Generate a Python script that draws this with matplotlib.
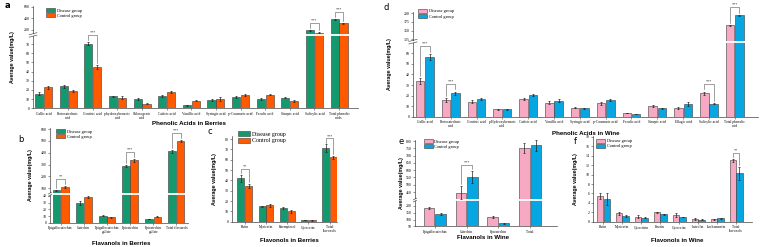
import numpy as np
import matplotlib
matplotlib.use("Agg")
import matplotlib.pyplot as plt
from matplotlib.patches import Patch

# ---- data ----
a_labels = ["Gallic acid", "Protocatechuic\nacid", "Gentisic acid", "p-hydroxybenzoic\nacid",
            "Chlorogenic\nacid", "Caffeic acid", "Vanillic acid", "Syringic acid",
            "p-Coumaric acid", "Ferulic acid", "Sinapic acid", "Salicylic acid",
            "Total phenolic\nacids"]
a_dis = [15.9, 24.0, 70.4, 13.3, 10.4, 13.3, 3.3, 9.3, 12.6, 10.4, 11.5, 188, 383]
a_con = [23.0, 19.0, 44.8, 11.5, 4.8, 18.1, 8.1, 10.0, 14.1, 14.8, 7.8, 150, 313]
a_dis_err = [1.5, 1.5, 1.8, 0.6, 1.2, 1.0, 0.4, 1.0, 1.2, 1.0, 0.6, 5, 8]
a_con_err = [1.6, 1.3, 2.0, 1.7, 0.6, 1.2, 0.6, 2.0, 1.0, 0.6, 0.8, 3, 6]
a_sig = {2: "***", 11: "***", 12: "***"}

d_labels = ["Gallic acid", "Protocatechuic\nacid", "Gentisic acid", "p-Hydroxybenzoic\nacid",
            "Caffeic acid", "Vanillic acid", "Syringic acid", "p-Coumaric acid",
            "Ferulic acid", "Sinapic acid", "Ellagic acid", "Salicylic acid",
            "Total phenolic\nacid"]
d_dis = [34.0, 15.7, 14.2, 7.2, 16.7, 13.2, 8.5, 12.6, 3.5, 10.1, 8.2, 22.0, 165]
d_con = [56.6, 22.0, 16.7, 6.9, 20.4, 15.1, 7.9, 15.7, 2.5, 7.9, 12.3, 12.3, 194]
d_dis_err = [3.0, 1.8, 1.2, 0.4, 0.9, 1.5, 0.4, 1.5, 0.3, 0.8, 0.8, 1.8, 1.5]
d_con_err = [3.0, 1.8, 0.8, 0.5, 0.9, 1.2, 0.6, 1.0, 0.4, 0.4, 1.8, 0.6, 2.0]
d_sig = {0: "***", 1: "***", 11: "***", 12: "***"}

b_labels = ["Epigallocatechin", "Catechin", "Epigallocatechin\ngallate", "Epicatechin",
            "Epicatechin\ngallate", "Total flavanols"]
b_dis = [83, 29.0, 10.5, 286, 5.5, 411]
b_con = [111, 38.5, 8.0, 337, 9.0, 500]
b_dis_err = [6, 3.0, 1.0, 8, 0.6, 10]
b_con_err = [8, 2.0, 0.6, 12, 1.0, 10]
b_sig = {0: "**", 3: "***", 5: "***"}

c_labels = ["Rutin", "Myricetin", "Kaempferol", "Quercetin", "Total\nflavonols"]
c_dis = [42.0, 14.8, 12.9, 1.9, 71.3]
c_con = [34.8, 15.8, 10.0, 1.3, 62.3]
c_dis_err = [3.5, 0.8, 1.0, 0.2, 3.5]
c_con_err = [1.8, 1.2, 1.8, 0.2, 1.8]
c_sig = {0: "**", 4: "***"}

e_labels = ["Epigallocatechin", "Catechin", "Epicatechin", "Total"]
e_dis = [183, 445, 119, 750]
e_con = [141, 555, 72, 770]
e_dis_err = [8, 45, 10, 35]
e_con_err = [5, 40, 3, 35]
e_sig = {1: "***"}

f_labels = ["Rutin", "Myricetin", "Quercitrin", "Fisetin", "Quercetin", "Luteolin",
            "Isorhamnetin", "Total\nflavonols"]
f_dis = [5.5, 1.8, 1.1, 2.0, 1.4, 0.6, 0.55, 13.0]
f_con = [4.8, 1.2, 0.8, 1.6, 1.0, 0.4, 0.7, 10.3]
f_dis_err = [0.6, 0.3, 0.25, 0.1, 0.35, 0.15, 0.1, 0.4]
f_con_err = [1.3, 0.15, 0.1, 0.1, 0.1, 0.1, 0.1, 1.4]
f_sig = {7: "**"}

GREEN, ORANGE = "#14996f", "#ff5a00"
PINK, BLUE = "#f7a8c3", "#06a6e2"
SERIF = "Liberation Serif"
SANS = "Liberation Sans"


def make_break(lo0, lo1, up0, up1, frac):
    def fwd(v):
        v = np.asarray(v, float)
        low = (v - lo0) / (lo1 - lo0) * frac
        high = frac + (v - up0) / (up1 - up0) * (1 - frac)
        return np.where(v <= lo1, low, np.where(v >= up0, high, frac))

    def inv(t):
        t = np.asarray(t, float)
        low = lo0 + t / frac * (lo1 - lo0)
        high = up0 + (t - frac) / (1 - frac) * (up1 - up0)
        return np.where(t <= frac, low, high)
    return fwd, inv


def make_linear(y0, y1):
    return (lambda v: (np.asarray(v, float) - y0) / (y1 - y0),
            lambda t: y0 + np.asarray(t, float) * (y1 - y0))


def panel(fig, rect, labels, dis, con, dis_err, con_err, sig, colors, xlim,
          ylabel_x, xlabel, xlabel_xy, leg_xy, ticks, brk=None, ylim=None,
          leg_fs=3.2, lab_fs=4.4):
    ax = fig.add_axes(rect)
    x = np.arange(len(labels))
    w, off = 0.33, 0.18
    if brk is not None:
        fwd, inv = make_break(*brk)
        ax.set_yscale("function", functions=(fwd, inv))
        ax.set_ylim(brk[0], brk[3])
    else:
        fwd, inv = make_linear(*ylim)
        ax.set_ylim(*ylim)
    ekw = dict(fmt="none", ecolor="#222222", elinewidth=0.5, capsize=1.0,
               capthick=0.5, zorder=4)
    ax.bar(x - off, dis, w, color=colors[0], edgecolor="#3a3a3a", lw=0.4, zorder=2)
    ax.bar(x + off, con, w, color=colors[1], edgecolor="#3a3a3a", lw=0.4, zorder=2)
    ax.errorbar(x - off, dis, yerr=dis_err, **ekw)
    ax.errorbar(x + off, con, yerr=con_err, **ekw)

    if brk is not None:
        ax.axhline(brk[1], color="white", lw=1.3, zorder=3)
        t = brk[4]
        for dt in (-0.012, 0.012):
            ax.plot([-0.012, 0.012], [t + dt - 0.01, t + dt + 0.01], transform=ax.transAxes,
                    color="#333333", lw=0.4, clip_on=False, zorder=5)

    for i, txt in sig.items():
        t1 = float(fwd(dis[i] + dis_err[i])) + 0.02
        t2 = float(fwd(con[i] + con_err[i])) + 0.02
        tm = max(t1, t2) + 0.05
        ax.plot([x[i] - off, x[i] - off, x[i] + off, x[i] + off],
                [t1, tm, tm, t2], transform=ax.get_xaxis_transform(),
                color="#555555", lw=0.4, clip_on=False, zorder=5)
        ax.text(x[i], tm + 0.005, txt, transform=ax.get_xaxis_transform(),
                ha="center", va="bottom", fontsize=3, family=SERIF, color="#333333")

    ax.set_xlim(*xlim)
    ax.set_xticks(x)
    ax.set_xticklabels(labels, family=SERIF, fontsize=2.6, linespacing=1.0)
    ax.set_yticks(ticks)
    ax.set_yticklabels([str(v) for v in ticks], family=SERIF, fontsize=2.8)
    ax.tick_params(length=1.5, width=0.4, pad=1, color="#444444")
    for s in ("top", "right"):
        ax.spines[s].set_visible(False)
    for s in ("left", "bottom"):
        ax.spines[s].set_linewidth(0.5)
        ax.spines[s].set_color("#444444")
    ax.set_ylabel("Average value(mg/L)", family=SANS, weight="bold", fontsize=lab_fs - 0.6)
    ax.yaxis.set_label_coords(ylabel_x, 0.5)
    ax.set_xlabel(xlabel, family=SANS, weight="bold", fontsize=lab_fs)
    ax.xaxis.set_label_coords(*xlabel_xy)
    handles = [Patch(facecolor=colors[0], edgecolor="#3a3a3a", lw=0.4, label="Disease group"),
               Patch(facecolor=colors[1], edgecolor="#3a3a3a", lw=0.4, label="Control group")]
    ax.legend(handles=handles, loc="upper left", bbox_to_anchor=leg_xy, frameon=False,
              prop={"family": SERIF, "size": leg_fs}, handlelength=2.0, handleheight=1.0,
              handletextpad=0.4, labelspacing=0.15, borderpad=0.2, borderaxespad=0)
    return ax


fig = plt.figure(figsize=(7.61, 2.47), dpi=100)

panel(fig, [0.0434, 0.5615, 0.427, 0.4126], a_labels, a_dis, a_con, a_dis_err, a_con_err,
      a_sig, (GREEN, ORANGE), (-0.43, 12.77), -0.055, "Phenolic Acids in Berries",
      (0.48, -0.125), (0.037, 0.99), [0, 10, 20, 30, 40, 50, 60, 70, 200, 400, 600],
      brk=(0, 80, 110, 610, 0.72))

panel(fig, [0.5427, 0.5275, 0.4534, 0.4255], d_labels, d_dis, d_con, d_dis_err, d_con_err,
      d_sig, (PINK, BLUE), (-0.46, 12.9), -0.061, "Phenolic Acids in Wine",
      (0.5, -0.136), (0.012, 1.035), [0, 10, 20, 30, 40, 50, 60, 125, 150, 175, 200],
      brk=(0, 71, 118, 205, 0.714))

panel(fig, [0.0657, 0.0984, 0.1813, 0.384], b_labels, b_dis, b_con, b_dis_err, b_con_err,
      b_sig, (GREEN, ORANGE), (-0.46, 5.5), -0.123, "Flavanols in Berries",
      (0.52, -0.19), (0.036, 0.997), [0, 10, 20, 30, 40, 100, 200, 300, 400, 500, 600],
      brk=(0, 42.5, 49, 610, 0.30))

panel(fig, [0.3049, 0.1024, 0.138, 0.347], c_labels, c_dis, c_con, c_dis_err, c_con_err,
      c_sig, (GREEN, ORANGE), (-0.6, 4.35), -0.143, "Flavonols in Berries",
      (0.55, -0.19), (0.05, 1.07), [0, 10, 20, 30, 40, 50, 60, 70, 80],
      ylim=(0, 83), leg_fs=4.2)

panel(fig, [0.5453, 0.0838, 0.1866, 0.351], e_labels, e_dis, e_con, e_dis_err, e_con_err,
      e_sig, (PINK, BLUE), (-0.63, 3.85), -0.077, "Flavanols in Wine",
      (0.48, -0.1), (0.056, 1.017), [50, 100, 150, 200, 450, 500, 550, 600, 650, 700, 750, 800],
      brk=(50, 244, 395, 810, 0.303))

panel(fig, [0.7792, 0.1024, 0.209, 0.349], f_labels, f_dis, f_con, f_dis_err, f_con_err,
      f_sig, (PINK, BLUE), (-0.54, 7.84), -0.094, "Flavonols in Wine",
      (0.53, -0.19), (0.013, 0.973), [0, 2, 4, 6, 8, 10, 12, 14, 16, 18],
      ylim=(0, 18.3))

for txt, xp, yp in [("a", 5, 6), ("d", 384, 8), ("b", 18, 139), ("c", 208, 131),
                    ("e", 399, 142), ("f", 574, 141)]:
    fig.text(xp / 761, 1 - yp / 247, txt, fontsize=6, family="DejaVu Sans",
             ha="left", va="center", weight="bold" if txt == "a" else "normal")

fig.savefig("out.png", dpi=100)
